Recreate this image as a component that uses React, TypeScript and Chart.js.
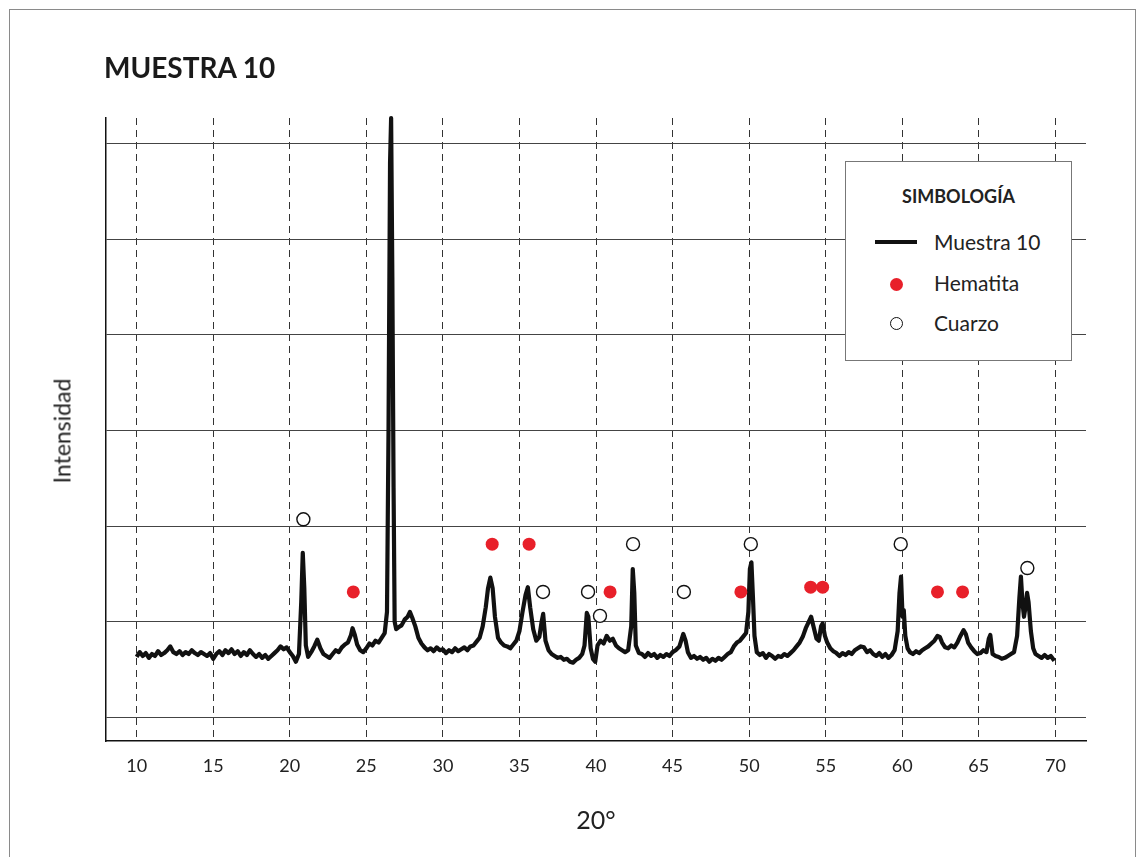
import React, { useEffect, useRef } from "react";
import { Chart, registerables } from "chart.js";

Chart.register(...registerables);

// ---- Data ----
const chartTitle = "MUESTRA 10";
const xAxisTitle = "20°";
const yAxisTitle = "Intensidad";
const legendTitle = "SIMBOLOGÍA";
const seriesNames = ["Muestra 10", "Hematita", "Cuarzo"];

const xTicks = [10, 15, 20, 25, 30, 35, 40, 45, 50, 55, 60, 65, 70];
const yGridValues = [0, 1, 2, 3, 4, 5, 6];

const twoTheta = [
  10.0, 10.2, 10.4, 10.6, 10.8, 11.0, 11.2, 11.4, 11.6, 11.8, 12.0, 12.2, 12.4, 12.6, 12.8,
  13.0, 13.2, 13.4, 13.6, 13.8, 14.0, 14.2, 14.4, 14.6, 14.8, 15.0, 15.2, 15.4, 15.6, 15.8,
  16.0, 16.2, 16.4, 16.6, 16.8, 17.0, 17.2, 17.4, 17.6, 17.8, 18.0, 18.2, 18.4, 18.6, 18.8,
  19.0, 19.2, 19.4, 19.6, 19.8, 20.0, 20.2, 20.4, 20.6, 20.75, 20.85, 20.95, 21.05, 21.2, 21.4,
  21.6, 21.8, 22.0, 22.2, 22.4, 22.6, 22.8, 23.0, 23.2, 23.4, 23.6, 23.8, 24.0, 24.1, 24.25,
  24.4, 24.6, 24.8, 25.0, 25.2, 25.4, 25.6, 25.8, 26.0, 26.2, 26.35, 26.45, 26.55, 26.62, 26.7,
  26.78, 26.85, 26.95, 27.1, 27.3, 27.5, 27.7, 27.85, 28.0, 28.2, 28.4, 28.6, 28.8, 29.0, 29.2,
  29.4, 29.6, 29.8, 30.0, 30.2, 30.4, 30.6, 30.8, 31.0, 31.2, 31.4, 31.6, 31.8, 32.0, 32.2,
  32.4, 32.6, 32.8, 32.95, 33.1, 33.25, 33.4, 33.6, 33.8, 34.0, 34.2, 34.4, 34.6, 34.8, 35.0,
  35.2, 35.4, 35.55, 35.7, 35.9, 36.1, 36.3, 36.45, 36.55, 36.7, 36.9, 37.1, 37.3, 37.5, 37.7,
  37.9, 38.1, 38.3, 38.5, 38.7, 38.9, 39.1, 39.25, 39.4, 39.5, 39.65, 39.8, 39.95, 40.1, 40.3,
  40.5, 40.7, 40.9, 41.1, 41.3, 41.5, 41.7, 41.9, 42.1, 42.3, 42.4, 42.5, 42.6, 42.8, 43.0,
  43.2, 43.4, 43.6, 43.8, 44.0, 44.2, 44.4, 44.6, 44.8, 45.0, 45.2, 45.45, 45.7, 45.85, 46.0,
  46.2, 46.4, 46.6, 46.8, 47.0, 47.2, 47.4, 47.6, 47.8, 48.0, 48.2, 48.4, 48.6, 48.8, 49.0,
  49.2, 49.4, 49.6, 49.8, 49.95, 50.05, 50.15, 50.25, 50.35, 50.5, 50.7, 50.9, 51.1, 51.3, 51.5,
  51.7, 51.9, 52.1, 52.3, 52.5, 52.7, 52.9, 53.1, 53.3, 53.5, 53.7, 53.9, 54.05, 54.2, 54.4,
  54.55, 54.7, 54.8, 54.95, 55.1, 55.3, 55.5, 55.7, 55.9, 56.1, 56.3, 56.5, 56.7, 56.9, 57.1,
  57.3, 57.5, 57.7, 57.9, 58.1, 58.3, 58.5, 58.7, 58.9, 59.1, 59.3, 59.5, 59.7, 59.82, 59.92,
  60.02, 60.1, 60.2, 60.35, 60.5, 60.7, 60.9, 61.1, 61.3, 61.5, 61.7, 61.9, 62.1, 62.3, 62.45,
  62.6, 62.8, 63.0, 63.2, 63.4, 63.6, 63.8, 64.0, 64.15, 64.3, 64.5, 64.7, 64.9, 65.1, 65.3,
  65.5, 65.65, 65.75, 65.9, 66.1, 66.3, 66.5, 66.7, 66.9, 67.1, 67.3, 67.5, 67.65, 67.75, 67.85,
  67.95, 68.05, 68.15, 68.25, 68.4, 68.55, 68.7, 68.9, 69.1, 69.3, 69.5, 69.7, 69.93,
];

const intensity = [
  0.63, 0.68, 0.64, 0.67, 0.62, 0.66, 0.64, 0.69, 0.65, 0.67, 0.70, 0.74, 0.68, 0.66, 0.69,
  0.65, 0.68, 0.66, 0.70, 0.67, 0.65, 0.68, 0.66, 0.64, 0.67, 0.61, 0.66, 0.69, 0.65, 0.70,
  0.67, 0.71, 0.66, 0.69, 0.64, 0.68, 0.65, 0.70, 0.66, 0.63, 0.66, 0.62, 0.65, 0.61, 0.64,
  0.67, 0.70, 0.74, 0.71, 0.73, 0.68, 0.64, 0.58, 0.66, 1.20, 1.72, 1.35, 0.75, 0.63, 0.68,
  0.74, 0.81, 0.72, 0.66, 0.64, 0.62, 0.66, 0.70, 0.68, 0.73, 0.76, 0.78, 0.86, 0.93, 0.86,
  0.76, 0.70, 0.68, 0.72, 0.77, 0.75, 0.80, 0.78, 0.83, 0.88, 1.10, 3.00, 5.80, 6.27, 4.60,
  2.40, 1.00, 0.92, 0.94, 0.96, 1.02, 1.05, 1.10, 1.04, 0.95, 0.83, 0.77, 0.73, 0.70, 0.72,
  0.69, 0.73, 0.70, 0.71, 0.67, 0.70, 0.68, 0.72, 0.69, 0.71, 0.73, 0.70, 0.74, 0.75, 0.79,
  0.83, 0.95, 1.15, 1.35, 1.46, 1.35, 1.05, 0.83, 0.78, 0.75, 0.74, 0.72, 0.76, 0.80, 0.90,
  1.10, 1.28, 1.36, 1.15, 0.92, 0.80, 0.84, 1.00, 1.08, 0.80, 0.70, 0.66, 0.64, 0.62, 0.63,
  0.60, 0.61, 0.58, 0.57, 0.60, 0.62, 0.66, 0.75, 1.09, 1.05, 0.72, 0.61, 0.58, 0.75, 0.80,
  0.77, 0.85, 0.80, 0.82, 0.75, 0.72, 0.70, 0.68, 0.70, 0.95, 1.55, 1.30, 0.75, 0.67, 0.66,
  0.63, 0.67, 0.64, 0.66, 0.62, 0.65, 0.63, 0.66, 0.64, 0.68, 0.70, 0.74, 0.87, 0.80, 0.68,
  0.62, 0.64, 0.61, 0.63, 0.60, 0.62, 0.58, 0.61, 0.59, 0.62, 0.60, 0.63, 0.66, 0.68, 0.74,
  0.78, 0.80, 0.84, 0.88, 1.10, 1.55, 1.62, 1.25, 0.85, 0.68, 0.65, 0.67, 0.62, 0.66, 0.64,
  0.61, 0.64, 0.63, 0.66, 0.64, 0.67, 0.70, 0.74, 0.78, 0.84, 0.93, 1.00, 1.05, 0.95, 0.82,
  0.80, 0.95, 0.98, 0.85, 0.78, 0.72, 0.69, 0.67, 0.64, 0.67, 0.65, 0.68, 0.66, 0.70, 0.72,
  0.74, 0.73, 0.68, 0.70, 0.66, 0.64, 0.67, 0.63, 0.66, 0.62, 0.65, 0.70, 0.90, 1.30, 1.47,
  1.05, 1.12, 0.85, 0.72, 0.68, 0.66, 0.69, 0.67, 0.70, 0.72, 0.74, 0.77, 0.80, 0.85, 0.84,
  0.78, 0.73, 0.72, 0.75, 0.73, 0.78, 0.85, 0.91, 0.87, 0.78, 0.73, 0.69, 0.66, 0.67, 0.70,
  0.68, 0.82, 0.86, 0.66, 0.64, 0.63, 0.61, 0.62, 0.64, 0.66, 0.68, 0.85, 1.25, 1.47, 1.20,
  1.05, 1.15, 1.30, 1.20, 0.90, 0.72, 0.66, 0.64, 0.62, 0.65, 0.62, 0.64, 0.59,
];

const hematitaX = [24.15, 33.22, 35.63, 40.92, 49.46, 54.02, 54.8, 62.3, 63.94];
const hematitaY = [1.31, 1.81, 1.81, 1.31, 1.31, 1.36, 1.36, 1.31, 1.31];

const cuarzoX = [26.63, 20.89, 36.54, 39.48, 40.26, 42.42, 45.74, 50.11, 59.9, 68.17];
const cuarzoY = [6.57, 2.07, 1.31, 1.31, 1.06, 1.81, 1.31, 1.81, 1.81, 1.56];

const FONT = "Lato, 'Noto Sans', sans-serif";
const RED = "#e8202a";

export default function App() {
  const canvasRef = useRef<HTMLCanvasElement | null>(null);

  useEffect(() => {
    if (!canvasRef.current) return;
    const line = twoTheta.map((x, i) => ({ x, y: intensity[i] }));
    const hem = hematitaX.map((x, i) => ({ x, y: hematitaY[i] }));
    const cua = cuarzoX.map((x, i) => ({ x, y: cuarzoY[i] }));

    const chart = new Chart(canvasRef.current, {
      type: "scatter",
      data: {
        datasets: [
          {
            label: seriesNames[0],
            data: line,
            showLine: true,
            borderColor: "#111",
            borderWidth: 4.2,
            borderJoinStyle: "round",
            pointRadius: 0,
            tension: 0,
            clip: false,
            order: 2,
          } as any,
          {
            label: seriesNames[1],
            data: hem,
            pointRadius: 6.5,
            pointBackgroundColor: RED,
            pointBorderColor: RED,
            pointBorderWidth: 0,
            clip: false,
            order: 1,
          } as any,
          {
            label: seriesNames[2],
            data: cua,
            pointRadius: 6.5,
            pointBackgroundColor: "#fff",
            pointBorderColor: "#111",
            pointBorderWidth: 1.4,
            clip: false,
            order: 0,
          } as any,
        ],
      },
      options: {
        animation: false,
        responsive: false,
        maintainAspectRatio: false,
        devicePixelRatio: 1,
        layout: { padding: { top: 118, right: 59, left: 0, bottom: 0 } },
        plugins: {
          legend: { display: false },
          tooltip: { enabled: false },
          title: { display: false },
        },
        scales: {
          x: {
            type: "linear",
            min: 8,
            max: 72,
            afterBuildTicks: (scale: any) => {
              scale.ticks = xTicks.map((v) => ({ value: v }));
            },
            afterFit: (scale: any) => {
              scale.height = 116;
            },
            ticks: {
              color: "#222",
              font: { family: FONT, size: 18 },
              padding: 14,
              maxRotation: 0,
              autoSkip: false,
              callback: (v: any) => String(v),
            },
            grid: {
              color: "#333",
              lineWidth: 1,
              drawTicks: false,
            },
            border: {
              display: true,
              color: "#111",
              width: 1.5,
              dash: [7, 5],
            },
          },
          y: {
            type: "linear",
            min: -0.25,
            max: 6.27,
            afterBuildTicks: (scale: any) => {
              scale.ticks = yGridValues.map((v) => ({ value: v }));
            },
            afterFit: (scale: any) => {
              scale.width = 106;
            },
            ticks: { display: false },
            grid: {
              color: "#444",
              lineWidth: 1,
              drawTicks: false,
            },
            border: { display: true, color: "#111", width: 1.5 },
          },
        },
      },
    });
    return () => chart.destroy();
  }, []);

  const txt: React.CSSProperties = {
    position: "absolute",
    fontFamily: FONT,
    color: "#222",
    whiteSpace: "nowrap",
    lineHeight: 1,
  };

  return (
    <div
      style={{
        position: "fixed",
        left: 0,
        top: 0,
        width: 1145,
        height: 857,
        background: "#fff",
        overflow: "hidden",
      }}
    >
      <div
        style={{
          position: "absolute",
          left: 9,
          top: 9,
          width: 1127,
          height: 900,
          border: "1.5px solid #8a8a8a",
          boxSizing: "border-box",
        }}
      />
      <canvas
        ref={canvasRef}
        width={1145}
        height={857}
        style={{ position: "absolute", left: 0, top: 0, width: 1145, height: 857 }}
      />
      <div style={{ ...txt, left: 104, top: 53, fontSize: 28, fontWeight: 700, color: "#1a1a1a" }}>
        {chartTitle}
      </div>
      <div
        style={{
          ...txt,
          left: 596,
          top: 807,
          fontSize: 25,
          transform: "translateX(-50%)",
        }}
      >
        {xAxisTitle}
      </div>
      <div
        style={{
          ...txt,
          left: 62,
          top: 431,
          fontSize: 23,
          transform: "translate(-50%, -50%) rotate(-90deg)",
        }}
      >
        {yAxisTitle}
      </div>
      {/* Legend */}
      <div
        style={{
          position: "absolute",
          left: 845,
          top: 161,
          width: 227,
          height: 200,
          border: "1.5px solid #777",
          background: "#fff",
          boxSizing: "border-box",
        }}
      >
        <div
          style={{
            ...txt,
            left: 0,
            width: "100%",
            textAlign: "center",
            top: 25,
            fontSize: 18,
            fontWeight: 700,
          }}
        >
          {legendTitle}
        </div>
        <div
          style={{
            position: "absolute",
            left: 29,
            top: 78,
            width: 42,
            height: 4,
            background: "#111",
          }}
        />
        <div style={{ ...txt, left: 88, top: 69, fontSize: 21 }}>{seriesNames[0]}</div>
        <div
          style={{
            position: "absolute",
            left: 44,
            top: 116,
            width: 13,
            height: 13,
            borderRadius: "50%",
            background: RED,
          }}
        />
        <div style={{ ...txt, left: 88, top: 110, fontSize: 21 }}>{seriesNames[1]}</div>
        <div
          style={{
            position: "absolute",
            left: 44,
            top: 155,
            width: 13,
            height: 13,
            borderRadius: "50%",
            border: "1.4px solid #111",
            boxSizing: "border-box",
            background: "#fff",
          }}
        />
        <div style={{ ...txt, left: 88, top: 150, fontSize: 21 }}>{seriesNames[2]}</div>
      </div>
    </div>
  );
}
